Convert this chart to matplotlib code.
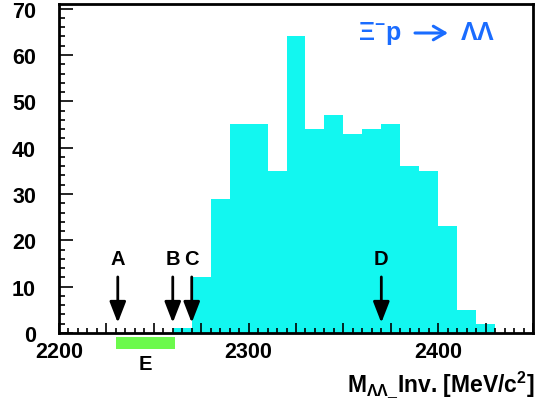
import matplotlib
matplotlib.use("Agg")
import matplotlib.pyplot as plt
from matplotlib.patches import Rectangle
from matplotlib.ticker import MultipleLocator, FuncFormatter

plt.rcParams['font.family'] = ['Liberation Sans', 'DejaVu Sans']
plt.rcParams['font.weight'] = 'bold'
plt.rcParams['mathtext.fontset'] = 'custom'
plt.rcParams['mathtext.rm'] = 'Liberation Sans:bold'
plt.rcParams['mathtext.it'] = 'Liberation Sans:bold'
plt.rcParams['mathtext.bf'] = 'Liberation Sans:bold'

# histogram: 10 MeV bins
bin_edges = [2260, 2270, 2280, 2290, 2300, 2310, 2320, 2330, 2340,
             2350, 2360, 2370, 2380, 2390, 2400, 2410, 2420, 2430]
counts = [1, 12, 29, 45, 45, 35, 64, 44, 47, 43, 44, 45, 36, 35, 23, 5, 2]

# marker arrows
marker_names = ['A', 'B', 'C', 'D']
marker_pos = [2231, 2260, 2270, 2370]

# region E
e_range = (2230, 2261)

W, H = 538, 410
fig = plt.figure(figsize=(W / 100, H / 100), dpi=100)
ax = fig.add_axes([59 / W, 76 / H, 474 / W, 329 / H])

ax.stairs(counts, bin_edges, fill=True, color='#12f7f0', linewidth=0)

ax.set_xlim(2200, 2450)
ax.set_ylim(0, 71)

for name, x in zip(marker_names, marker_pos):
    ax.annotate('', xy=(x, 2.2), xytext=(x, 12.1),
                arrowprops=dict(arrowstyle='-|>,head_length=0.85,head_width=0.33',
                                mutation_scale=15, lw=2, color='black',
                                shrinkA=0, shrinkB=0))
    ax.text(x, 14.9, name, ha='center', va='baseline', fontsize=14.5,
            fontweight='bold')

# green band E below the axis
ax.add_patch(Rectangle((e_range[0], -3.4), e_range[1] - e_range[0], 2.6,
                       facecolor='#6cfa4c', edgecolor='none', clip_on=False))
ax.text(sum(e_range) / 2, -6.6, 'E', ha='center', va='center', fontsize=14.5,
        fontweight='bold')

# reaction label (pixel positions from top-left)
blue = '#1a6cff'
fig.text(358 / W, 1 - 40 / H, r'$\Xi^{-}p$', ha='left', va='baseline',
         fontsize=18, color=blue)
fig.text(495 / W, 1 - 40 / H, r'$\Lambda\Lambda$', ha='right', va='baseline',
         fontsize=18, color=blue)
ax.annotate('', xy=(448 / W, 1 - 34 / H), xytext=(415 / W, 1 - 34 / H),
            xycoords='figure fraction', textcoords='figure fraction',
            arrowprops=dict(arrowstyle='->,head_length=0.6,head_width=0.35',
                            mutation_scale=14, lw=2.2, color=blue,
                            shrinkA=0, shrinkB=0))

# ticks
ax.xaxis.set_major_locator(MultipleLocator(25))
ax.xaxis.set_minor_locator(MultipleLocator(5))
ax.xaxis.set_major_formatter(FuncFormatter(lambda v, p: '%d' % v if v % 100 == 0 else ''))
ax.yaxis.set_major_locator(MultipleLocator(10))
ax.yaxis.set_minor_locator(MultipleLocator(2))
ax.tick_params(axis='both', which='both', direction='in', top=False, right=False,
               width=1.2, labelsize=15.5)
ax.tick_params(axis='x', which='major', length=7, pad=5.5)
ax.tick_params(axis='x', which='minor', length=3.5)
ax.tick_params(axis='y', which='major', length=10, pad=16.5)
ax.tick_params(axis='y', which='minor', length=4.5)
for lab in ax.get_xticklabels() + ax.get_yticklabels():
    lab.set_fontweight('bold')

for s in ax.spines.values():
    s.set_linewidth(2)

fig.text(535 / W, 1 - 392 / H, r'M$_{\Lambda\Lambda\_}$Inv. [MeV/c$^{2}$]',
         ha='right', va='baseline', fontsize=16.5, fontweight='bold')

fig.savefig('out.png', dpi=100)
